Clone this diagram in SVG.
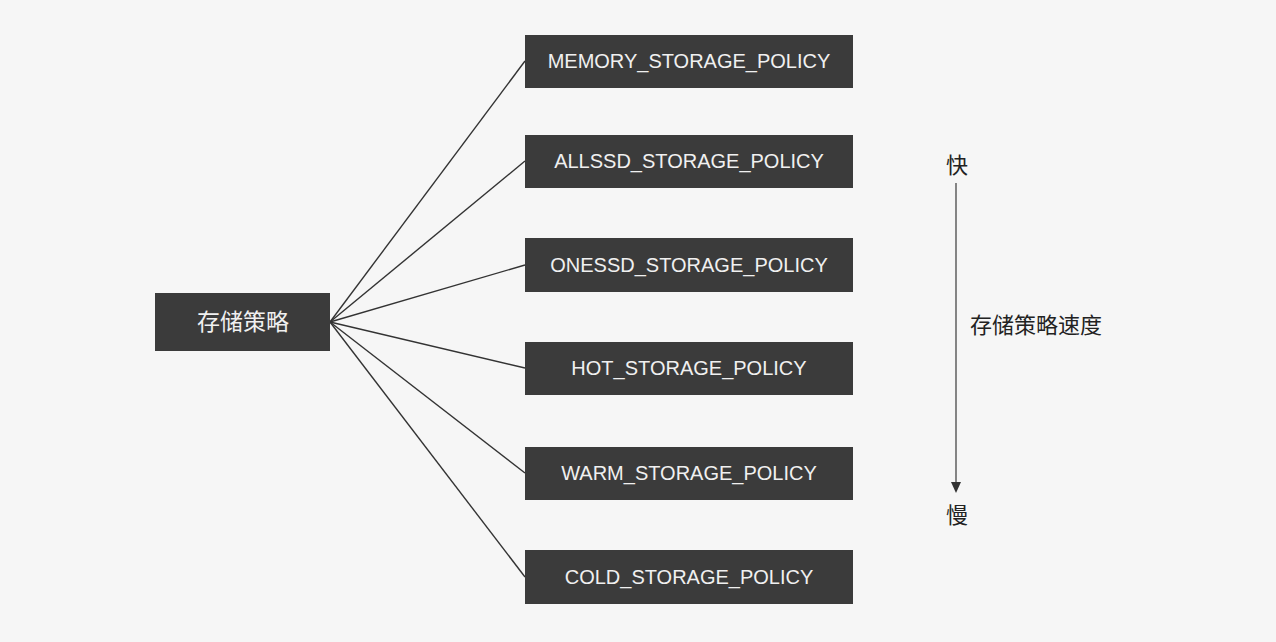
<svg xmlns="http://www.w3.org/2000/svg" width="1276" height="642" viewBox="0 0 1276 642">
<style>
.box{fill:#3b3b3b;}
.lbl{fill:#f0f0f0;font-family:"Liberation Sans",Arial,sans-serif;font-size:20px;text-anchor:middle;dominant-baseline:central;}
.cn{font-family:"Liberation Sans","Noto Sans CJK SC",sans-serif;}
.edge{stroke:#333;stroke-width:1.4;fill:none;}
</style>
<rect width="1276" height="642" fill="#f6f6f6"/>
<g id="connectors">
<line class="edge" x1="330" y1="322" x2="525" y2="61"/>
<line class="edge" x1="330" y1="322" x2="525" y2="161"/>
<line class="edge" x1="330" y1="322" x2="525" y2="265"/>
<line class="edge" x1="330" y1="322" x2="525" y2="368"/>
<line class="edge" x1="330" y1="322" x2="525" y2="473"/>
<line class="edge" x1="330" y1="322" x2="525" y2="577"/>
</g>
<g id="root">
<rect class="box" x="155" y="293" width="175" height="58"/>
<text class="lbl cn" x="243" y="322" style="font-size:23px">存储策略</text>
</g>
<g id="memory">
<rect class="box" x="525" y="35" width="328" height="53"/>
<text class="lbl" x="689" y="61">MEMORY_STORAGE_POLICY</text>
</g>
<g id="allssd">
<rect class="box" x="525" y="135" width="328" height="53"/>
<text class="lbl" x="689" y="161">ALLSSD_STORAGE_POLICY</text>
</g>
<g id="onessd">
<rect class="box" x="525" y="238" width="328" height="54"/>
<text class="lbl" x="689" y="265">ONESSD_STORAGE_POLICY</text>
</g>
<g id="hot">
<rect class="box" x="525" y="342" width="328" height="53"/>
<text class="lbl" x="689" y="368">HOT_STORAGE_POLICY</text>
</g>
<g id="warm">
<rect class="box" x="525" y="447" width="328" height="53"/>
<text class="lbl" x="689" y="473">WARM_STORAGE_POLICY</text>
</g>
<g id="cold">
<rect class="box" x="525" y="550" width="328" height="54"/>
<text class="lbl" x="689" y="577">COLD_STORAGE_POLICY</text>
</g>
<g id="speed">
<text class="cn" x="957" y="173" font-size="22" text-anchor="middle" fill="#222">快</text>
<line x1="956" y1="183" x2="956" y2="484" stroke="#555" stroke-width="1.4"/>
<path d="M951,482 L961,482 L956,493 Z" fill="#333"/>
<text class="cn" x="957" y="523" font-size="22" text-anchor="middle" fill="#222">慢</text>
<text class="cn" x="970" y="333" font-size="22" fill="#222">存储策略速度</text>
</g>
</svg>
